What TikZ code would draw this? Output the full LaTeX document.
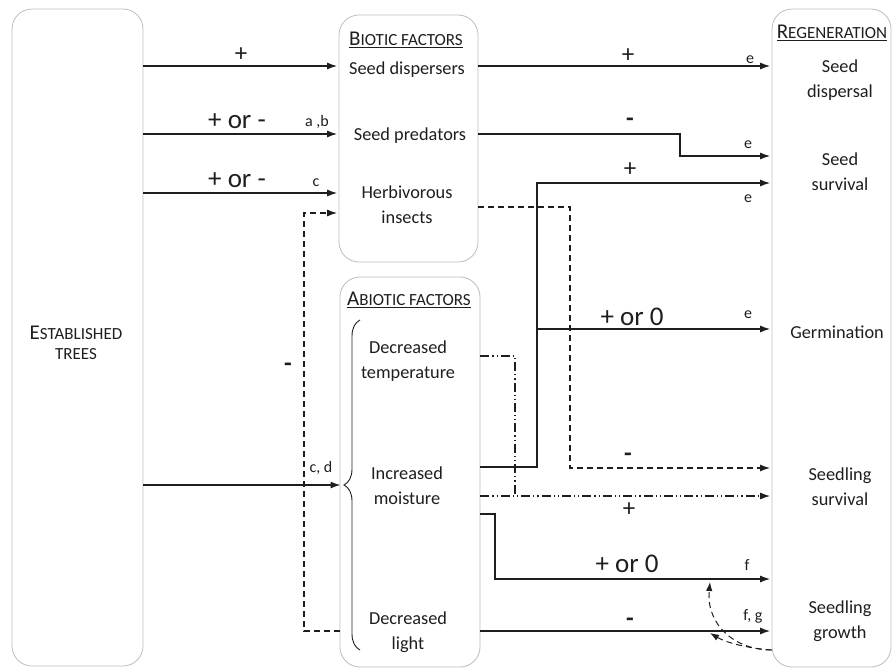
\documentclass[tikz,border=0pt]{standalone}
\usepackage{fontspec}
\setmainfont{Carlito}
\usetikzlibrary{arrows.meta,decorations.pathreplacing}
\definecolor{boxgray}{HTML}{BDBDBD}
\definecolor{ink}{HTML}{1E1E1E}
\newcommand\capbig[1]{{\fontsize{21}{20}\selectfont #1}}
\newcommand\capsml[1]{{\fontsize{17}{20}\selectfont #1}}
\begin{document}
\begin{tikzpicture}[x=1pt,y=-1pt,
  box/.style={draw=boxgray, line width=0.8pt, rounded corners=20pt, inner sep=0pt},
  txt/.style={font=\fontsize{18.3}{25}\selectfont, text=ink, align=center, inner sep=0pt},
  hd/.style={text=ink, align=center, inner sep=0pt},
  sml/.style={font=\fontsize{16}{18}\selectfont, text=ink, inner sep=0pt},
  sgn/.style={font=\fontsize{25}{26}\selectfont, text=ink, inner sep=0pt},
  big/.style={font=\fontsize{27}{28}\selectfont, text=ink, inner sep=0pt},
  ln/.style={line width=1.2pt, draw=ink},
  arr/.style={line width=1.2pt, draw=ink, -{Latex[length=10pt,width=7pt]}, shorten >=1.5pt},
  dsh/.style={dash pattern=on 6pt off 4pt},
  ddot/.style={dash pattern=on 9pt off 3pt on 1.2pt off 3pt on 1.2pt off 3pt},
]
\useasboundingbox (0,0) rectangle (893,671);

% boxes
\node[box, minimum width=131pt, minimum height=657pt] (trees) at (77.5,337.5) {};
\node[box, minimum width=139pt, minimum height=247pt] (biotic) at (408.5,138.5) {};
\node[box, minimum width=140pt, minimum height=390pt] (abiotic) at (410,472) {};
\node[box, minimum width=119pt, minimum height=658pt] (regen) at (831.5,338) {};

% headings
\node[hd] (treestxt) at (76,343) {\capbig{E}\capsml{STABLISHED}\\[8pt]\capsml{TREES}};
\node[hd] (bhead) at (406,40) {\underline{\capbig{B}\capsml{IOTIC FACTORS}}};
\node[hd] (ahead) at (409,300) {\underline{\capbig{A}\capsml{BIOTIC FACTORS}}};
\node[hd] (rhead) at (832,33) {\underline{\capbig{R}\capsml{EGENERATION}}};

% biotic factors
\node[txt] (sd) at (407,70) {Seed dispersers};
\node[txt] (sp) at (410,136) {Seed predators};
\node[txt] (hi) at (407,205) {Herbivorous\\insects};
% abiotic factors
\node[txt] (dt) at (408,361) {Decreased\\temperature};
\node[txt] (im) at (407,486) {Increased\\moisture};
\node[txt] (dl) at (408,632) {Decreased\\light};
% regeneration
\node[txt] (rsd) at (840,80) {Seed\\dispersal};
\node[txt] (rss) at (840,172) {Seed\\survival};
\node[txt] (rg) at (837,332) {Germination};
\node[txt] (rsl) at (840,487) {Seedling\\survival};
\node[txt] (rgr) at (840,621) {Seedling\\growth};

% brace
\draw[ln, line width=0.9pt, decoration={brace, amplitude=16pt, aspect=0.5}, decorate] (360,650) -- (360,320);
\coordinate (tip) at (342,485);

% ---- left arrows
\draw[arr] (trees.east |- 0,66) -- (biotic.west |- 0,66);
\node[sgn] (l1) at (241,55) {+};
\draw[arr] (trees.east |- 0,134) -- (biotic.west |- 0,134);
\node[big] (l2) at (237,121) {+ or -};
\node[sml] (l2b) at (317,122) {a ,b};
\draw[arr] (trees.east |- 0,193) -- (biotic.west |- 0,193);
\node[big] (l3) at (237,180) {+ or -};
\node[sml] (l3b) at (316,183) {c};
\draw[arr, dsh] (abiotic.west |- 0,631) -- (304,631) -- (304,213) -- (biotic.west |- 0,213);
\node[sgn] (l4) at (288,367) {\textbf{-}};
\draw[arr] (trees.east |- 0,485) -- (tip);
\node[sml] (l5) at (321,468) {c, d};

% ---- right arrows
\draw[arr] (biotic.east |- 0,66) -- (regen.west |- 0,66);
\node[sgn] (r1) at (628,56) {+};
\node[sml] (r1e) at (750,60) {e};
\draw[arr] (biotic.east |- 0,134) -- (680,134) -- (680,156) -- (regen.west |- 0,156);
\node[sgn] (r2) at (630,122) {\textbf{-}};
\node[sml] (r2e) at (748,145) {e};
\draw[arr] (abiotic.east |- 0,467) -- (537,467) -- (537,183) -- (regen.west |- 0,183);
\node[sgn] (r3) at (630,170) {+};
\node[sml] (r3e) at (748,199) {e};
\draw[arr] (537,329) -- (regen.west |- 0,329);
\node[big] (r4) at (632,317) {+ or 0};
\node[sml] (r4e) at (748,315) {e};
\draw[arr, dsh] (biotic.east |- 0,207) -- (570,207) -- (570,468) -- (regen.west |- 0,468);
\node[sgn] (r5) at (628,457) {\textbf{-}};
\draw[ln, ddot] (abiotic.east |- 0,356) -- (515,356) -- (515,496);
\draw[arr, ddot] (abiotic.east |- 0,496) -- (regen.west |- 0,496);
\node[sgn] (r6) at (629,510) {+};
\draw[arr] (abiotic.east |- 0,514) -- (495,514) -- (495,579) -- (regen.west |- 0,579);
\node[big] (r7) at (627,564) {+ or 0};
\node[sml] (r7f) at (747,565) {f};
\draw[arr] (abiotic.east |- 0,631) -- (regen.west |- 0,631);
\node[sgn] (r8) at (630,622) {\textbf{-}};
\node[sml] (r8f) at (753,616) {f, g};

% feedback dashed curves
\coordinate (fb) at (regen.west |- 0,650);
\draw[line width=1pt, draw=ink, dsh, -{Latex[length=9pt,width=6.5pt]}] (fb) .. controls (735,650) and (706,625) .. (710,582);
\draw[line width=1pt, draw=ink, dsh, -{Latex[length=9pt,width=6.5pt]}] (fb) .. controls (745,648) and (725,642) .. (710,633);
\end{tikzpicture}
\end{document}
